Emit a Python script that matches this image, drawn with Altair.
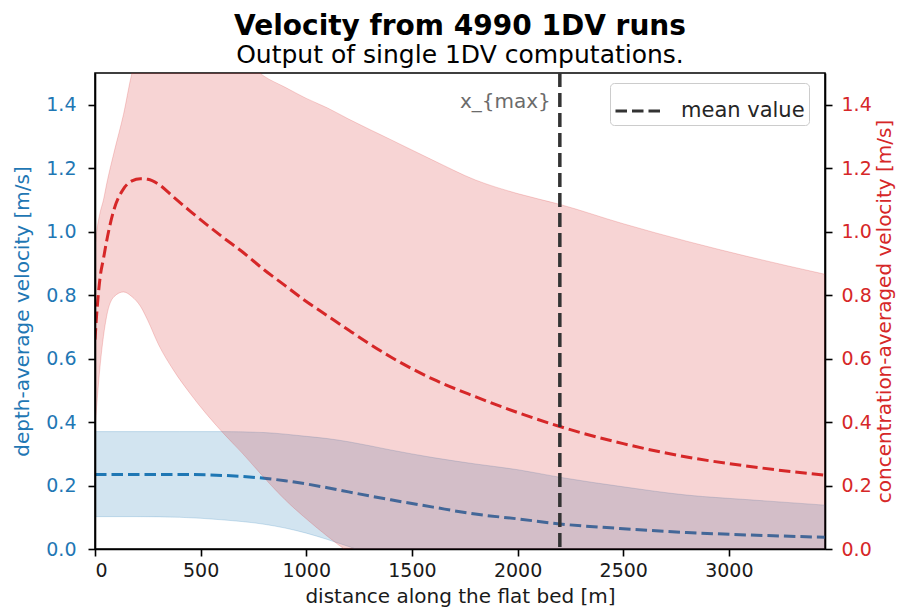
import altair as alt
import pandas as pd

# ---------------- data ----------------
title_text = "Velocity from 4990 1DV runs"
subtitle_text = "Output of single 1DV computations."
x_title = "distance along the flat bed [m]"
left_title = "depth-average velocity [m/s]"
right_title = "concentration-averaged velocity [m/s]"
legend_label = "mean value"
x_max_label = "x_{max}"
x_max = 2200

x_ticks = [0, 500, 1000, 1500, 2000, 2500, 3000]
y_ticks = [0.0, 0.2, 0.4, 0.6, 0.8, 1.0, 1.2, 1.4]

# concentration-averaged velocity (right axis, red)
red_x = [0, 8, 24, 40, 55, 90, 135, 175, 215, 250, 300, 370, 450, 600, 700,
         800, 900, 1000, 1100, 1200, 1400, 1600, 1800, 2000, 2200, 2500, 2800,
         3100, 3460]
red_hi = [0.95, 1.00, 1.06, 1.10, 1.15, 1.25, 1.37, 1.50, 1.58, 1.62, 1.66,
          1.68, 1.67, 1.60, 1.545, 1.49, 1.455, 1.42, 1.39, 1.355, 1.29, 1.225,
          1.163, 1.12, 1.086, 1.025, 0.97, 0.92, 0.865]
red_mean = [0.66, 0.74, 0.855, 0.915, 0.97, 1.07, 1.135, 1.16, 1.167, 1.165,
            1.15, 1.11, 1.065, 0.985, 0.935, 0.88, 0.83, 0.78, 0.735, 0.69,
            0.605, 0.535, 0.48, 0.43, 0.386, 0.332, 0.29, 0.26, 0.232]
red_lo = [0.376, 0.45, 0.576, 0.67, 0.733, 0.795, 0.81, 0.795, 0.765, 0.72,
          0.645, 0.565, 0.49, 0.37, 0.30, 0.225, 0.155, 0.095, 0.04, -0.01,
          -0.09, -0.15, -0.2, -0.25, -0.29, -0.34, -0.38, -0.42, -0.46]

# depth-average velocity (left axis, blue)
blue_x = [0, 200, 400, 600, 800, 900, 1000, 1100, 1200, 1400, 1600, 1800,
          2000, 2200, 2500, 2800, 3100, 3460]
blue_hi = [0.37, 0.37, 0.37, 0.37, 0.367, 0.362, 0.355, 0.348, 0.338, 0.312,
           0.288, 0.268, 0.25, 0.226, 0.196, 0.17, 0.155, 0.138]
blue_mean = [0.235, 0.235, 0.235, 0.232, 0.223, 0.215, 0.205, 0.193, 0.18,
             0.155, 0.132, 0.11, 0.095, 0.079, 0.064, 0.052, 0.044, 0.037]
blue_lo = [0.102, 0.102, 0.10, 0.092, 0.078, 0.066, 0.05, 0.03, 0.008, -0.04,
           -0.08, -0.11, -0.14, -0.16, -0.19, -0.21, -0.23, -0.25]

red_df = pd.DataFrame({"x": red_x, "hi": red_hi, "mean": red_mean, "lo": red_lo})
blue_df = pd.DataFrame({"x": blue_x, "hi": blue_hi, "mean": blue_mean, "lo": blue_lo})
vline_df = pd.DataFrame({"x": [x_max], "label": [legend_label], "txt": [x_max_label]})

# ---------------- style ----------------
FONT = "DejaVu Sans"
BLUE = "#1f77b4"
RED = "#d62728"
DASH = [11.5, 5]

x_scale = alt.Scale(domain=[0, 3455], nice=False, zero=False)
x_axis = alt.Axis(values=x_ticks, format="d", title=x_title, labelPadding=5,
                  titlePadding=6, zindex=1)


def X():
    return alt.X("x:Q", scale=x_scale, axis=x_axis)


yl_scale = alt.Scale(domain=[0, 1.5], nice=False, zero=False)
yl_axis = alt.Axis(orient="left", values=y_ticks, format=".1f", title=left_title,
                   labelColor=BLUE, titleColor=BLUE, labelPadding=12,
                   titlePadding=13, zindex=1)
yr_scale = alt.Scale(domain=[0, 1.5], nice=False, zero=False)
yr_axis = alt.Axis(orient="right", values=y_ticks, format=".1f", title=right_title,
                   labelColor=RED, titleColor=RED, labelPadding=9,
                   titlePadding=3, titleAngle=270, titleBaseline="top", zindex=1)

# ---------------- left (blue) ----------------
blue_band = alt.Chart(blue_df).mark_area(
    color=BLUE, fillOpacity=0.2, stroke=BLUE, strokeOpacity=0.2, strokeWidth=1,
    interpolate="monotone", clip=True
).encode(
    x=X(),
    y=alt.Y("hi:Q", scale=yl_scale, axis=yl_axis),
    y2="lo:Q",
)
blue_line = alt.Chart(blue_df).mark_line(
    color=BLUE, strokeDash=DASH, strokeWidth=3, interpolate="monotone", clip=True
).encode(
    x=X(),
    y=alt.Y("mean:Q", scale=yl_scale, axis=yl_axis),
)
xmax_text = alt.Chart(vline_df).mark_text(
    align="right", baseline="middle", dx=-9, fontSize=20, font=FONT,
    color="#6b6b6b"
).encode(
    x=X(),
    y=alt.Y(datum=1.41, type="quantitative", scale=yl_scale, axis=yl_axis),
    text="txt:N",
)
left = alt.layer(blue_band, blue_line, xmax_text)

# ---------------- right (red) ----------------
red_band = alt.Chart(red_df).mark_area(
    color=RED, fillOpacity=0.2, stroke=RED, strokeOpacity=0.2, strokeWidth=1,
    interpolate="monotone", clip=True
).encode(
    x=X(),
    y=alt.Y("hi:Q", scale=yr_scale, axis=yr_axis),
    y2="lo:Q",
)
red_line = alt.Chart(red_df).mark_line(
    color=RED, strokeDash=DASH, strokeWidth=3, interpolate="monotone", clip=True
).encode(
    x=X(),
    y=alt.Y("mean:Q", scale=yr_scale, axis=yr_axis),
)
right = alt.layer(red_band, red_line)

# ---------------- vertical line + legend ----------------
vline = alt.Chart(vline_df).mark_rule(strokeDash=[14, 6], strokeWidth=3.5).encode(
    x=X(),
    stroke=alt.Stroke(
        "label:N",
        scale=alt.Scale(range=["#333333"]),
        legend=alt.Legend(
            title=None, orient="none", legendX=515, legendY=10,
            symbolType="stroke", symbolSize=2025, symbolStrokeWidth=3,
            symbolDash=DASH, labelFontSize=21, labelFont=FONT,
            labelColor="#262626", labelOffset=19, fillColor="white",
            strokeColor="#cccccc", cornerRadius=4, padding=4,
        ),
    ),
)

chart = alt.layer(left, right, vline).resolve_scale(y="independent").properties(
    width=730,
    height=476,
    padding={"left": 87, "top": 65, "right": 71, "bottom": 59},
    autosize=alt.AutoSizeParams(type="none"),
    background="white",
    title=alt.TitleParams(
        text=title_text, subtitle=subtitle_text, font=FONT, fontSize=28,
        fontWeight="bold", color="black", subtitleFont=FONT, subtitleFontSize=25,
        subtitleColor="black", subtitlePadding=2, anchor="middle", offset=3,
    ),
).configure_view(
    stroke="black", strokeWidth=1.6
).configure_axis(
    grid=False, labelFont=FONT, titleFont=FONT, labelFontSize=19,
    titleFontSize=20, titleFontWeight="normal", tickColor="black",
    domainColor="black", tickSize=7, tickWidth=1.6, domainWidth=1.6,
    labelColor="#1a1a1a", titleColor="#1a1a1a",
)

chart.save("out.html", embed_options={"renderer": "svg", "actions": False})
